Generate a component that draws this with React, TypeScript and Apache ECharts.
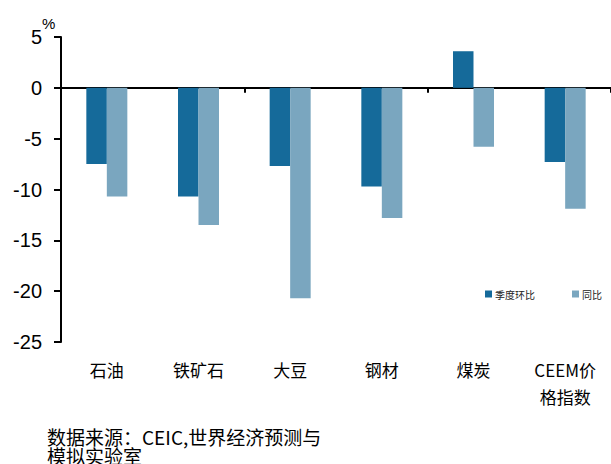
import React, { useEffect, useRef } from "react";
import * as echarts from "echarts";

const categories = ["石油", "铁矿石", "大豆", "钢材", "煤炭", "CEEM价格指数"];
const seriesNames = ["季度环比", "同比"];
const qoqValues = [-7.5, -10.7, -7.7, -9.7, 3.6, -7.3];
const yoyValues = [-10.7, -13.5, -20.7, -12.8, -5.8, -11.9];
const yTicks = { min: -25, max: 5, interval: 5 };
const unitLabel = "%";
const sourceText = "数据来源：CEIC,世界经济预测与\n模拟实验室";

const CJK = '"Noto Sans CJK SC", "Noto Sans", sans-serif';
const LAT = '"Liberation Sans", Arial, sans-serif';

export default function App() {
  const ref = useRef<HTMLDivElement>(null);
  useEffect(() => {
    document.body.style.margin = "0";
    if (!ref.current) return;
    const chart = echarts.init(ref.current, null, { renderer: "svg" });
    chart.setOption({
      animation: false,
      backgroundColor: "#ffffff",
      grid: { left: 61, right: -8, top: 37, bottom: 122, containLabel: false },
      legend: {
        left: 480,
        top: 284,
        itemWidth: 7,
        itemHeight: 7,
        itemGap: 37,
        icon: "rect",
        textStyle: { fontSize: 10, color: "#222", fontFamily: CJK, padding: [0, 0, 0, -2] },
        data: seriesNames,
      },
      xAxis: [
        {
          type: "category",
          data: categories,
          position: "bottom",
          axisLine: { show: false, onZero: false },
          axisTick: { show: false },
          axisLabel: {
            margin: 14,
            color: "#000",
            fontSize: 17,
            lineHeight: 27,
            fontFamily: CJK,
            formatter: (v: string) => (v.length > 5 ? v.slice(0, 5) + "\n" + v.slice(5) : v),
          },
        },
        {
          type: "category",
          data: categories,
          position: "top",
          axisLine: { show: true, onZero: true, lineStyle: { color: "#000", width: 2 } },
          axisTick: { show: true, inside: true, length: 5, lineStyle: { color: "#000", width: 2 } },
          axisLabel: { show: false },
        },
      ],
      yAxis: {
        type: "value",
        min: yTicks.min,
        max: yTicks.max,
        interval: yTicks.interval,
        axisLine: { show: true, lineStyle: { color: "#000", width: 2 } },
        axisTick: { show: true, length: 7, lineStyle: { color: "#000", width: 2 } },
        splitLine: { show: false },
        axisLabel: { color: "#000", fontSize: 20, fontFamily: LAT, margin: 19 },
      },
      series: [
        {
          name: seriesNames[0],
          type: "bar",
          xAxisIndex: 0,
          data: qoqValues,
          barWidth: 20.5,
          barGap: "0%",
          itemStyle: { color: "#156A9A" },
        },
        {
          name: seriesNames[1],
          type: "bar",
          xAxisIndex: 0,
          data: yoyValues,
          barWidth: 20.5,
          barGap: "0%",
          itemStyle: { color: "#7AA6BF" },
        },
      ],
      graphic: [
        {
          type: "text",
          left: 42,
          top: 16,
          style: { text: unitLabel, fontSize: 15, fill: "#000", fontFamily: LAT },
        },
        {
          type: "text",
          left: 47,
          top: 427,
          style: { text: sourceText, fontSize: 19, lineHeight: 19, fill: "#000", fontFamily: CJK },
        },
      ],
    });
    return () => chart.dispose();
  }, []);
  return <div ref={ref} style={{ width: 611, height: 464 }} />;
}
